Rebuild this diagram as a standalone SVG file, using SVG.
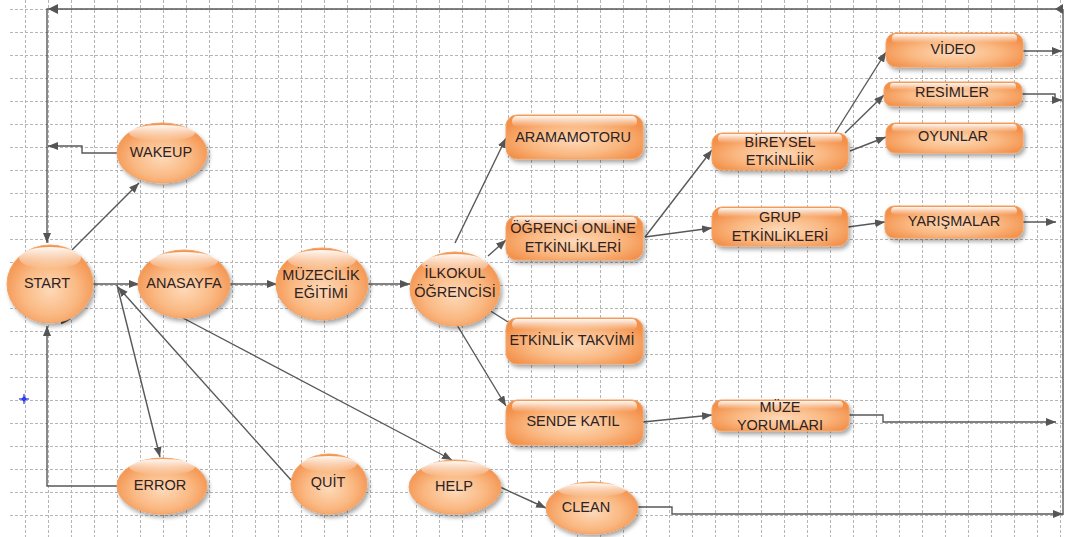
<svg xmlns="http://www.w3.org/2000/svg" width="1065" height="537" viewBox="0 0 1065 537">
<defs>
<pattern id="gridV" x="2" y="0" width="23" height="537" patternUnits="userSpaceOnUse">
<line x1="0.5" y1="0" x2="0.5" y2="537" stroke="#b5b5b5" stroke-width="1" stroke-dasharray="3,2"/>
</pattern>
<pattern id="gridH" x="0" y="9" width="1065" height="23" patternUnits="userSpaceOnUse">
<line x1="0" y1="0.5" x2="1065" y2="0.5" stroke="#b5b5b5" stroke-width="1" stroke-dasharray="3,2"/>
</pattern>
<radialGradient id="og" cx="50%" cy="58%" r="58%">
<stop offset="0" stop-color="#fdd9b8"/>
<stop offset="0.55" stop-color="#fab983"/>
<stop offset="1" stop-color="#f3904a"/>
</radialGradient>
<linearGradient id="hl" x1="0" y1="0" x2="0" y2="1">
<stop offset="0" stop-color="#ffffff" stop-opacity="0.95"/>
<stop offset="1" stop-color="#ffffff" stop-opacity="0"/>
</linearGradient>
<filter id="sh" x="-20%" y="-20%" width="150%" height="160%">
<feDropShadow dx="2" dy="3" stdDeviation="2" flood-color="#000" flood-opacity="0.35"/>
</filter>
<marker id="ar" markerWidth="11" markerHeight="9" refX="10" refY="4" orient="auto" markerUnits="userSpaceOnUse">
<path d="M0,0 L10,4 L0,8 z" fill="#555"/>
</marker>
<style>
.shape{fill:url(#og);stroke:#f4a466;stroke-width:1;filter:url(#sh)}
.hl{fill:url(#hl)}
.t{font-family:"Liberation Sans",Arial,sans-serif;font-size:14.5px;fill:#2e2222;text-anchor:middle}
.c{fill:none;stroke:#585858;stroke-width:1.4}
.ca{fill:none;stroke:#585858;stroke-width:1.4;marker-end:url(#ar)}
</style>
</defs>
<rect width="1065" height="537" fill="#ffffff"/>
<rect x="8" y="0" width="1055" height="537" fill="url(#gridV)"/>
<rect x="8" y="0" width="1055" height="537" fill="url(#gridH)"/>

<g id="connectors">
<polyline class="ca" points="1063,9 47,9 47,243"/>
<path d="M58,4 L48,9 L58,14 z" fill="#555"/>
<path d="M1063,4 L1055,9 L1063,14 z" fill="#555"/>
<line class="c" x1="1063" y1="9" x2="1063" y2="515"/>
<polyline class="ca" points="117,153 82,153 82,146 48,146"/>
<line class="ca" x1="72" y1="250" x2="139" y2="183"/>
<line class="ca" x1="93" y1="284" x2="139" y2="284"/>
<line class="ca" x1="230" y1="284" x2="277" y2="284"/>
<line class="ca" x1="368" y1="284" x2="410" y2="284"/>
<polyline class="ca" points="117,486 47,486 47,326"/>
<path d="M61,323 Q66,321 70,318" fill="none" stroke="#444" stroke-width="2.5"/>
<line class="ca" x1="117" y1="285" x2="160" y2="457"/>
<line class="ca" x1="291" y1="480" x2="118" y2="287"/>
<line class="ca" x1="183" y1="318" x2="452" y2="460"/>
<line class="ca" x1="500" y1="487" x2="546" y2="508"/>
<line class="ca" x1="455" y1="243" x2="506" y2="138"/>
<line class="ca" x1="488" y1="256" x2="506" y2="240"/>
<line class="c" x1="489" y1="310" x2="508" y2="322"/>
<line class="ca" x1="457" y1="325" x2="506" y2="406"/>
<line class="ca" x1="645" y1="237" x2="712" y2="150"/>
<line class="ca" x1="645" y1="237" x2="712" y2="228"/>
<line class="ca" x1="835" y1="133" x2="886" y2="52"/>
<line class="ca" x1="845" y1="133" x2="884" y2="95"/>
<line class="ca" x1="850" y1="151" x2="886" y2="137"/>
<line class="ca" x1="848" y1="227" x2="885" y2="222"/>
<line class="ca" x1="1023" y1="51" x2="1062" y2="51"/>
<polyline class="ca" points="1022,94 1055,94 1055,100 1062,100"/>
<line class="ca" x1="1023" y1="222" x2="1056" y2="222"/>
<line class="ca" x1="643" y1="422" x2="712" y2="415"/>
<polyline class="ca" points="849,415 883,415 883,422 1056,422"/>
<polyline class="ca" points="638,507 672,507 672,514 1063,514"/>
</g>

<g id="start">
<ellipse class="shape" cx="50" cy="284" rx="43" ry="39"/>
<ellipse class="hl" cx="50" cy="258" rx="31" ry="11"/>
<text class="t" x="47" y="288">START</text>
</g>
<g id="wakeup">
<ellipse class="shape" cx="162" cy="153" rx="45" ry="30"/>
<ellipse class="hl" cx="162" cy="133" rx="33" ry="8"/>
<text class="t" x="161" y="157">WAKEUP</text>
</g>
<g id="anasayfa">
<ellipse class="shape" cx="184" cy="284" rx="46" ry="34"/>
<ellipse class="hl" cx="184" cy="261" rx="34" ry="9"/>
<text class="t" x="184" y="288">ANASAYFA</text>
</g>
<g id="muzecilik">
<ellipse class="shape" cx="322" cy="284" rx="46" ry="36"/>
<ellipse class="hl" cx="322" cy="260" rx="34" ry="10"/>
<text class="t" x="321" y="280">MÜZECİLİK</text>
<text class="t" x="321" y="298">EĞİTİMİ</text>
</g>
<g id="ilkokul">
<ellipse class="shape" cx="455" cy="289" rx="45" ry="37"/>
<ellipse class="hl" cx="455" cy="264" rx="33" ry="10"/>
<text class="t" x="455" y="278">İLKOKUL</text>
<text class="t" x="455" y="297">ÖĞRENCİSİ</text>
</g>
<g id="error">
<ellipse class="shape" cx="162" cy="486" rx="45" ry="28"/>
<ellipse class="hl" cx="162" cy="467" rx="33" ry="8"/>
<text class="t" x="160" y="490">ERROR</text>
</g>
<g id="quit">
<ellipse class="shape" cx="329" cy="484" rx="38" ry="30"/>
<ellipse class="hl" cx="329" cy="464" rx="28" ry="8"/>
<text class="t" x="328" y="487">QUİT</text>
</g>
<g id="help">
<ellipse class="shape" cx="455" cy="487" rx="46" ry="27"/>
<ellipse class="hl" cx="455" cy="469" rx="34" ry="8"/>
<text class="t" x="454" y="491">HELP</text>
</g>
<g id="clean">
<ellipse class="shape" cx="592" cy="508" rx="46" ry="26"/>
<ellipse class="hl" cx="592" cy="490" rx="34" ry="7"/>
<text class="t" x="586" y="512">CLEAN</text>
</g>

<g id="aramamotoru">
<rect class="shape" x="506" y="115" width="137" height="44" rx="11"/>
<rect class="hl" x="512" y="116" width="125" height="11" rx="5"/>
<text class="t" x="573" y="142">ARAMAMOTORU</text>
</g>
<g id="ogrenci-online">
<rect class="shape" x="506" y="216" width="137" height="44" rx="11"/>
<rect class="hl" x="512" y="217" width="125" height="11" rx="5"/>
<text class="t" x="573" y="233">ÖĞRENCİ ONLİNE</text>
<text class="t" x="573" y="252">ETKİNLİKLERİ</text>
</g>
<g id="etkinlik-takvimi">
<rect class="shape" x="506" y="318" width="137" height="46" rx="11"/>
<rect class="hl" x="512" y="319" width="125" height="11" rx="5"/>
<text class="t" x="572" y="345">ETKİNLİK TAKVİMİ</text>
</g>
<g id="sende-katil">
<rect class="shape" x="506" y="400" width="137" height="45" rx="11"/>
<rect class="hl" x="512" y="401" width="125" height="11" rx="5"/>
<text class="t" x="573" y="426">SENDE KATIL</text>
</g>
<g id="bireysel">
<rect class="shape" x="712" y="133" width="136" height="37" rx="10"/>
<rect class="hl" x="718" y="134" width="124" height="9" rx="4"/>
<text class="t" x="780" y="147">BİREYSEL</text>
<text class="t" x="780" y="165">ETKİNLİİK</text>
</g>
<g id="grup">
<rect class="shape" x="712" y="207" width="136" height="39" rx="10"/>
<rect class="hl" x="718" y="208" width="124" height="9" rx="4"/>
<text class="t" x="780" y="222">GRUP</text>
<text class="t" x="780" y="241">ETKİNLİKLERİ</text>
</g>
<g id="muze-yorumlari">
<rect class="shape" x="712" y="400" width="137" height="31" rx="9"/>
<rect class="hl" x="718" y="401" width="125" height="8" rx="4"/>
<text class="t" x="780" y="412">MÜZE</text>
<text class="t" x="780" y="430">YORUMLARI</text>
</g>
<g id="video">
<rect class="shape" x="886" y="33" width="137" height="34" rx="10"/>
<rect class="hl" x="892" y="34" width="125" height="9" rx="4"/>
<text class="t" x="953" y="54">VİDEO</text>
</g>
<g id="resimler">
<rect class="shape" x="884" y="82" width="138" height="24" rx="8"/>
<rect class="hl" x="890" y="83" width="126" height="7" rx="3"/>
<text class="t" x="952" y="97">RESİMLER</text>
</g>
<g id="oyunlar">
<rect class="shape" x="886" y="123" width="137" height="30" rx="9"/>
<rect class="hl" x="892" y="124" width="125" height="8" rx="4"/>
<text class="t" x="953" y="141">OYUNLAR</text>
</g>
<g id="yarismalar">
<rect class="shape" x="885" y="206" width="138" height="32" rx="9"/>
<rect class="hl" x="891" y="207" width="126" height="8" rx="4"/>
<text class="t" x="954" y="226">YARIŞMALAR</text>
</g>

<g id="cursor" stroke="#2233ee" stroke-width="1.2" fill="none">
<line x1="19" y1="399" x2="29" y2="399"/>
<line x1="24" y1="394" x2="24" y2="404"/>
<path d="M24,397 L26,399 L24,401 L22,399 z"/>
</g>
</svg>
